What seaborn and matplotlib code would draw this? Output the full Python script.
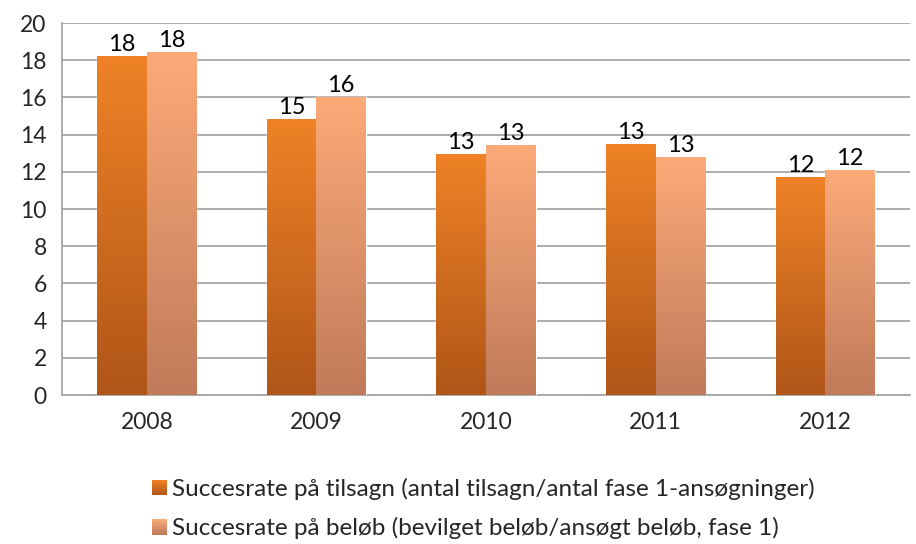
import matplotlib
matplotlib.use("Agg")
import matplotlib.pyplot as plt
from matplotlib.colors import LinearSegmentedColormap, to_rgb
from matplotlib.legend_handler import HandlerBase
from matplotlib.patches import Patch, Rectangle
import numpy as np
import pandas as pd
import seaborn as sns

# Data
years = ["2008", "2009", "2010", "2011", "2012"]
series_names = [
    "Succesrate på tilsagn (antal tilsagn/antal fase 1-ansøgninger)",
    "Succesrate på beløb (bevilget beløb/ansøgt beløb, fase 1)",
]
tilsagn = [18.2, 14.8, 12.95, 13.45, 11.7]
beloeb = [18.4, 16.0, 13.4, 12.75, 12.05]

# gradient colours (top, bottom) for each series
grad_colors = [("#EF8226", "#B05618"), ("#FCAA78", "#C07B5A")]

df = pd.DataFrame({
    "year": years * 2,
    "serie": [series_names[0]] * len(years) + [series_names[1]] * len(years),
    "value": tilsagn + beloeb,
})

sns.set_style("white")
plt.rcParams["font.family"] = ["Lato", "DejaVu Sans"]

fig = plt.figure(figsize=(9.16, 5.44), dpi=100)
ax = fig.add_axes([62 / 916, 149 / 544, 848 / 916, 372 / 544])

sns.barplot(data=df, x="year", y="value", hue="serie", hue_order=series_names,
            palette=[c[0] for c in grad_colors], width=0.585, gap=0,
            legend=False, ax=ax, zorder=3)

# paint a vertical gradient into every bar
for cont, (top, bottom) in zip(ax.containers, grad_colors):
    cmap = LinearSegmentedColormap.from_list("g", [bottom, top])
    for bar in cont:
        x, w, h = bar.get_x(), bar.get_width(), bar.get_height()
        grad = np.linspace(1, 0, 256).reshape(-1, 1)
        ax.imshow(grad, extent=[x, x + w, 0, h], aspect="auto", cmap=cmap,
                  vmin=0, vmax=1, zorder=3)
        bar.set_facecolor("none")
    ax.bar_label(cont, fmt="%.0f", padding=1, fontsize=17, color="black")

ax.set_xlim(-0.5, len(years) - 0.5)
ax.set_ylim(0, 20)
ax.set_yticks(range(0, 21, 2))
ax.set_xlabel("")
ax.set_ylabel("")

ax.yaxis.grid(True, color="#A6A6A6", linewidth=1.3, zorder=0)
ax.set_axisbelow(True)
for side in ["top", "right"]:
    ax.spines[side].set_visible(False)
for side in ["left", "bottom"]:
    ax.spines[side].set_color("#A6A6A6")
    ax.spines[side].set_linewidth(1.3)

ax.tick_params(axis="y", length=7, width=1.3, color="#A6A6A6", labelsize=16.5, pad=4)
ax.tick_params(axis="x", which="major", length=0, labelsize=16.5, pad=12)
ax.set_xticks(np.arange(-0.5, len(years), 1.0), minor=True)
ax.tick_params(axis="x", which="minor", length=7, width=1.3, color="#A6A6A6")


class GradientHandler(HandlerBase):
    def __init__(self, top, bottom):
        super().__init__()
        self.top = np.array(to_rgb(top))
        self.bottom = np.array(to_rgb(bottom))

    def create_artists(self, legend, orig_handle, xdescent, ydescent,
                       width, height, fontsize, trans):
        n = 24
        arts = []
        for i in range(n):
            f = i / (n - 1)
            col = self.bottom * (1 - f) + self.top * f
            arts.append(Rectangle((-xdescent, -ydescent + i * height / n), width,
                                  height / n * 1.05, facecolor=col,
                                  edgecolor="none", transform=trans))
        return arts


handles = [Patch(label=n) for n in series_names]
hmap = {h: GradientHandler(t, b) for h, (t, b) in zip(handles, grad_colors)}
fig.legend(handles=handles, handler_map=hmap, loc="upper left",
           bbox_to_anchor=(140 / 916, 1 - 466 / 544), frameon=False,
           fontsize=17.5, labelspacing=0.7, handlelength=0.6, handleheight=0.6,
           handletextpad=0.2, borderpad=0)

fig.savefig("out.png", dpi=100)
